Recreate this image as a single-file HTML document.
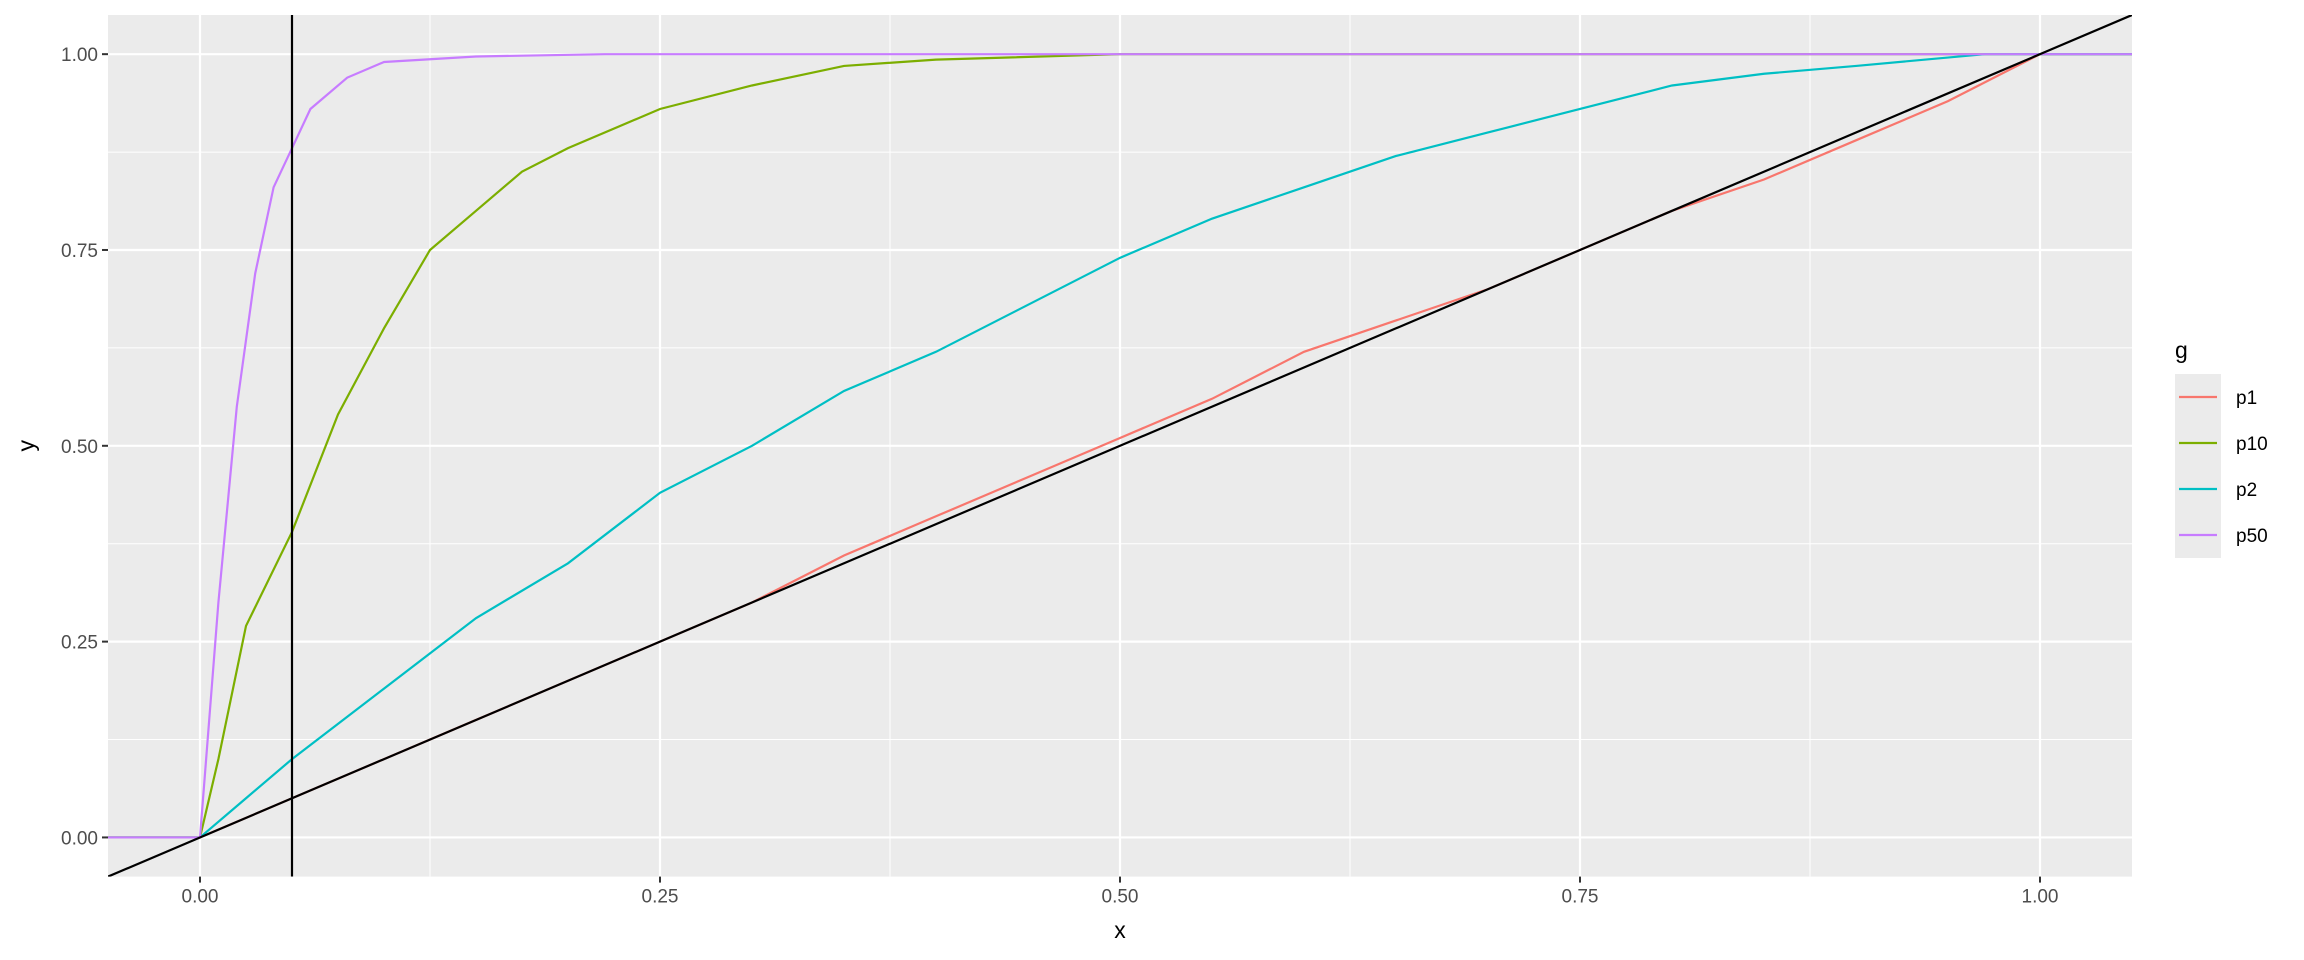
<!DOCTYPE html>
<html><head><meta charset="utf-8"><style>
body{margin:0;background:#fff;}
svg{display:block;font-family:"Liberation Sans",Arial,sans-serif;}
</style></head><body>
<svg id="chart" width="2304" height="960" viewBox="0 0 2304 960"></svg>
<script>
const xTicks=[0,0.25,0.5,0.75,1];
const yTicks=[0,0.25,0.5,0.75,1];
const tickLabels=["0.00","0.25","0.50","0.75","1.00"];
const groups=["p1","p10","p2","p50"];
const colors=["#F8766D","#7CAE00","#00BFC4","#C77CFF"];
const p1x=[-0.05,0,0.05,0.1,0.15,0.2,0.25,0.3,0.35,0.4,0.45,0.5,0.55,0.6,0.65,0.7,0.75,0.8,0.85,0.9,0.95,1,1.05];
const p1y=[0,0,0.05,0.1,0.15,0.2,0.25,0.3,0.36,0.41,0.46,0.51,0.56,0.62,0.66,0.7,0.75,0.8,0.84,0.89,0.94,1,1];
const p10x=[-0.05,0,0.01,0.025,0.05,0.075,0.1,0.125,0.15,0.175,0.2,0.25,0.3,0.35,0.4,0.5,1.05];
const p10y=[0,0,0.1,0.27,0.39,0.54,0.65,0.75,0.8,0.85,0.88,0.93,0.96,0.985,0.993,1,1];
const p2x=[-0.05,0,0.025,0.05,0.1,0.15,0.2,0.25,0.3,0.35,0.4,0.45,0.5,0.55,0.6,0.65,0.7,0.75,0.8,0.85,0.9,0.97,1.05];
const p2y=[0,0,0.05,0.1,0.19,0.28,0.35,0.44,0.5,0.57,0.62,0.68,0.74,0.79,0.83,0.87,0.9,0.93,0.96,0.975,0.985,1,1];
const p50x=[-0.05,0,0.005,0.01,0.02,0.03,0.04,0.05,0.06,0.08,0.1,0.15,0.22,1.05];
const p50y=[0,0,0.15,0.3,0.55,0.72,0.83,0.88,0.93,0.97,0.99,0.997,1,1];
const seriesX=[p1x,p10x,p2x,p50x];
const seriesY=[p1y,p10y,p2y,p50y];

const NS="http://www.w3.org/2000/svg";
const svg=document.getElementById('chart');
const L=108,R=2132,T=15,B=876.6;
const sx=v=>L+(v+0.05)/1.1*(R-L);
const sy=v=>B-(v+0.05)/1.1*(B-T);
function mk(tag,attrs,parent){const e=document.createElementNS(NS,tag);for(const k in attrs)e.setAttribute(k,attrs[k]);(parent||svg).appendChild(e);return e;}
const clip=mk('clipPath',{id:'pc'});mk('rect',{x:L,y:T,width:R-L,height:B-T},clip);
const panel=mk('rect',{x:L,y:T,width:R-L,height:B-T,fill:'#EBEBEB'});


for(let i=0;i<xTicks.length-1;i++){const m=(xTicks[i]+xTicks[i+1])/2;
 const g=mk('line',{x1:sx(m),x2:sx(m),y1:T,y2:B,stroke:'#fff','stroke-width':1});
 
 
 const h=mk('line',{x1:L,x2:R,y1:sy(m),y2:sy(m),stroke:'#fff','stroke-width':1});
 
 }
xTicks.forEach((t,i)=>{
 const g=mk('line',{x1:sx(t),x2:sx(t),y1:T,y2:B,stroke:'#fff','stroke-width':2.2});
 
 
 mk('line',{x1:sx(t),x2:sx(t),y1:B,y2:B+6,stroke:'#333','stroke-width':2});
 const tx=mk('text',{x:sx(t),y:B+26,'text-anchor':'middle','font-size':19,fill:'#4D4D4D'});tx.textContent=tickLabels[i];
 
 
});
yTicks.forEach((t,i)=>{
 const g=mk('line',{x1:L,x2:R,y1:sy(t),y2:sy(t),stroke:'#fff','stroke-width':2.2});
 
 
 mk('line',{x1:L-6,x2:L,y1:sy(t),y2:sy(t),stroke:'#333','stroke-width':2});
 const tx=mk('text',{x:L-10,y:sy(t)+7,'text-anchor':'end','font-size':19,fill:'#4D4D4D'});tx.textContent=tickLabels[i];
 
 
});
const lines=mk('g',{'clip-path':'url(#pc)'});
seriesX.forEach((xs,s)=>{
 const pts=xs.map((x,i)=>sx(x)+','+sy(seriesY[s][i])).join(' ');
 const pl=mk('polyline',{points:pts,fill:'none',stroke:colors[s],'stroke-width':2.2},lines);
 
 
});
const vl=mk('line',{x1:sx(0.05),x2:sx(0.05),y1:T,y2:B,stroke:'#000','stroke-width':2.2},lines);


const dl=mk('line',{x1:sx(-0.05),y1:sy(-0.05),x2:sx(1.05),y2:sy(1.05),stroke:'#000','stroke-width':2.2},lines);


const xt=mk('text',{x:(L+R)/2,y:938,'text-anchor':'middle','font-size':23,fill:'#000'});xt.textContent='x';


const yt=mk('text',{x:34,y:(T+B)/2,'text-anchor':'middle','font-size':23,fill:'#000',transform:'rotate(-90 34 '+((T+B)/2)+')'});yt.textContent='y';


const lt=mk('text',{x:2175,y:358,'font-size':23,fill:'#000'});lt.textContent='g';


groups.forEach((g,i)=>{
 const cy=397+i*46;
 const bg=mk('rect',{x:2175,y:cy-23,width:46,height:46,fill:'#EBEBEB'});
 
 
 mk('line',{x1:2179,x2:2217,y1:cy,y2:cy,stroke:colors[i],'stroke-width':2.2});
 const t=mk('text',{x:2236,y:cy+7,'font-size':19,fill:'#000'});t.textContent=g;
 
 
});
</script>
</body></html>
